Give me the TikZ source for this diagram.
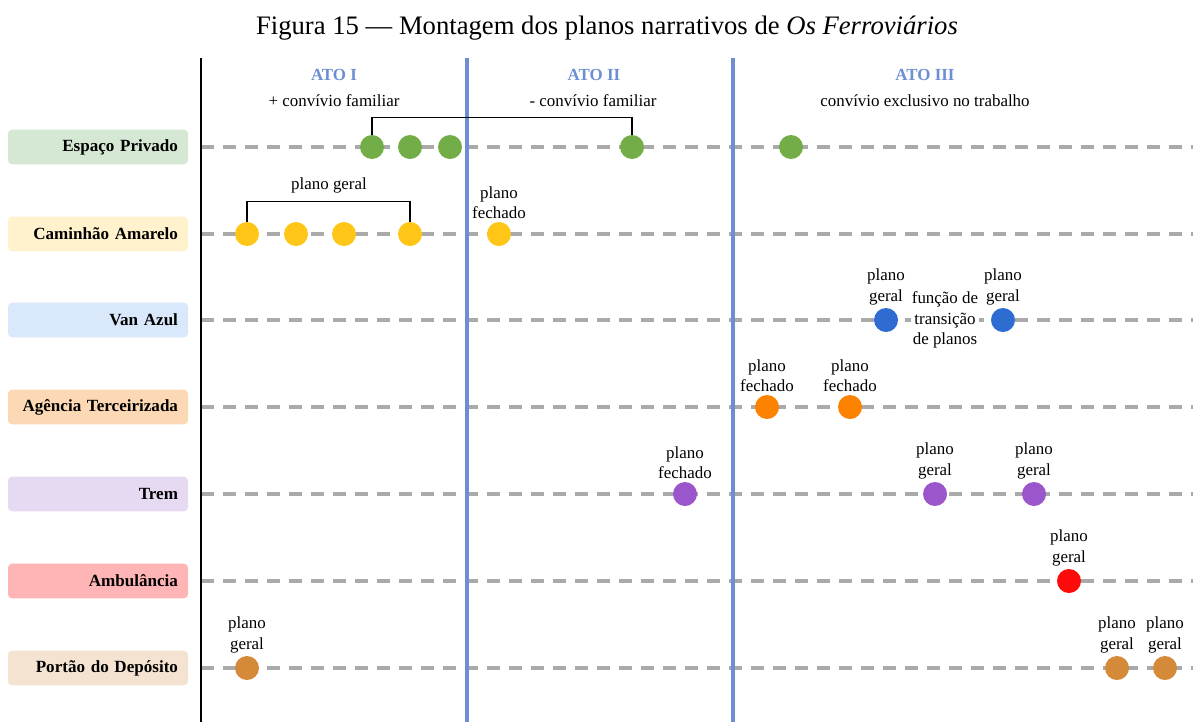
\documentclass[tikz,border=0pt]{standalone}
\usepackage{fontspec}
\setmainfont{Liberation Serif}
\usepackage{tikz}
\usetikzlibrary{positioning}
\definecolor{atoblue}{RGB}{108, 142, 210}
\definecolor{trackgray}{RGB}{170, 170, 170}
\definecolor{privbox}{HTML}{D5E8D4}
\definecolor{camboxc}{HTML}{FFF2CC}
\definecolor{vanbox}{HTML}{DAE8FC}
\definecolor{agbox}{HTML}{FCD9B4}
\definecolor{trembox}{HTML}{E6DAF2}
\definecolor{ambbox}{HTML}{FFB5B5}
\definecolor{portbox}{HTML}{F5E3D1}
\definecolor{privdot}{HTML}{72AD47}
\definecolor{camdot}{HTML}{FFC517}
\definecolor{vandot}{HTML}{2E6CD1}
\definecolor{agdot}{HTML}{FC8200}
\definecolor{tremdot}{HTML}{9A56CA}
\definecolor{ambdot}{HTML}{FF0A0A}
\definecolor{portdot}{HTML}{D58A3A}
\tikzset{
  lane/.style={
    rectangle, rounded corners=3pt,
    minimum height=26pt, text width=120pt, inner xsep=7.5pt,
    align=right, font=\fontsize{12.8}{15}\selectfont\bfseries,
  },
  shot/.style={circle, minimum size=18pt, inner sep=0pt},
  note/.style={align=center, inner sep=1pt, fill=white,
    font=\fontsize{12.7}{15.4}\selectfont},
  track/.style={draw=trackgray, line width=3pt, dash pattern=on 9.75pt off 6.75pt},
  actline/.style={draw=atoblue, line width=3pt},
  bracket/.style={draw=black, line width=0.9pt},
}

\begin{document}
\begin{tikzpicture}[x=0.75pt, y=-0.75pt,
  acttitle/.style={font=\fontsize{12.7}{15}\selectfont\bfseries, text=atoblue},
  actsub/.style={note}]
\useasboundingbox (0,0) rectangle (1193,722);

% frame
\coordinate (axisT) at (201,58);
\coordinate (axisB) at (201,722);
\coordinate (act2T) at (467,58);
\coordinate (act2B) at (467,722);
\coordinate (act3T) at (733,58);
\coordinate (act3B) at (733,722);
\coordinate (rightEdge) at (1193,0);

\node[font=\fontsize{20}{24}\selectfont] (title) at (607,28) {Figura 15 — Montagem dos planos narrativos de \textit{Os Ferroviários}};

% lanes
\node[lane, fill=privbox] (privado) at (98,147) {Espaço Privado};
\node[lane, fill=camboxc] (caminhao) at (98,234) {Caminhão Amarelo};
\node[lane, fill=vanbox] (van) at (98,320) {Van Azul};
\node[lane, fill=agbox] (agencia) at (98,407) {Agência Terceirizada};
\node[lane, fill=trembox] (trem) at (98,494) {Trem};
\node[lane, fill=ambbox] (ambulancia) at (98,581) {Ambulância};
\node[lane, fill=portbox] (portao) at (98,668) {Portão do Depósito};

\draw[track] (privado.east -| axisT) -- (privado.east -| rightEdge);
\draw[track] (caminhao.east -| axisT) -- (caminhao.east -| rightEdge);
\draw[track] (van.east -| axisT) -- (van.east -| rightEdge);
\draw[track] (agencia.east -| axisT) -- (agencia.east -| rightEdge);
\draw[track] (trem.east -| axisT) -- (trem.east -| rightEdge);
\draw[track] (ambulancia.east -| axisT) -- (ambulancia.east -| rightEdge);
\draw[track] (portao.east -| axisT) -- (portao.east -| rightEdge);

\draw[black, line width=2.2pt] (axisT) -- (axisB);
\draw[actline] (act2T) -- (act2B);
\draw[actline] (act3T) -- (act3B);

% acts
\node[acttitle] (ato1) at (334,75) {ATO I};
\node[actsub] (ato1sub) at (334,101) {+ convívio familiar};
\node[acttitle] (ato2) at (594,75) {ATO II};
\node[actsub] (ato2sub) at (593,101) {- convívio familiar};
\node[acttitle] (ato3) at (925,75) {ATO III};
\node[actsub] (ato3sub) at (925,101) {convívio exclusivo no trabalho};

% shots
\node[shot, fill=privdot] (ep1) at (372,147) {};
\node[shot, fill=privdot] (ep2) at (410,147) {};
\node[shot, fill=privdot] (ep3) at (450,147) {};
\node[shot, fill=privdot] (ep4) at (632,147) {};
\node[shot, fill=privdot] (ep5) at (791,147) {};
\draw[bracket] (ep1.north) -- ++(0,-17) -| (ep4.north);

\node[shot, fill=camdot] (ca1) at (247,234) {};
\node[shot, fill=camdot] (ca2) at (296,234) {};
\node[shot, fill=camdot] (ca3) at (344,234) {};
\node[shot, fill=camdot] (ca4) at (410,234) {};
\node[shot, fill=camdot] (ca5) at (499,234) {};
\draw[bracket] (ca1.north) -- ++(0,-20) -| (ca4.north);
\node[note] (ca14lbl) at (329,185) {plano geral};
\node[note, above=1pt of ca5] (ca5lbl) {plano\\fechado};

\node[shot, fill=vandot] (va1) at (886,320) {};
\node[shot, fill=vandot] (va2) at (1003,320) {};
\node[note, above=1pt of va1] (va1lbl) {plano\\geral};
\node[note, above=1pt of va2] (va2lbl) {plano\\geral};
\node[note] (transicao) at (945,320) {função de\\transição\\de planos};

\node[shot, fill=agdot] (ag1) at (767,407) {};
\node[shot, fill=agdot] (ag2) at (850,407) {};
\node[note, above=1pt of ag1] (ag1lbl) {plano\\fechado};
\node[note, above=1pt of ag2] (ag2lbl) {plano\\fechado};

\node[shot, fill=tremdot] (tr1) at (685,494) {};
\node[shot, fill=tremdot] (tr2) at (935,494) {};
\node[shot, fill=tremdot] (tr3) at (1034,494) {};
\node[note, above=1pt of tr1] (tr1lbl) {plano\\fechado};
\node[note, above=1pt of tr2] (tr2lbl) {plano\\geral};
\node[note, above=1pt of tr3] (tr3lbl) {plano\\geral};

\node[shot, fill=ambdot] (am1) at (1069,581) {};
\node[note, above=1pt of am1] (am1lbl) {plano\\geral};

\node[shot, fill=portdot] (po1) at (247,668) {};
\node[shot, fill=portdot] (po2) at (1117,668) {};
\node[shot, fill=portdot] (po3) at (1165,668) {};
\node[note, above=1pt of po1] (po1lbl) {plano\\geral};
\node[note, above=1pt of po2] (po2lbl) {plano\\geral};
\node[note, above=1pt of po3] (po3lbl) {plano\\geral};

\end{tikzpicture}
\end{document}
